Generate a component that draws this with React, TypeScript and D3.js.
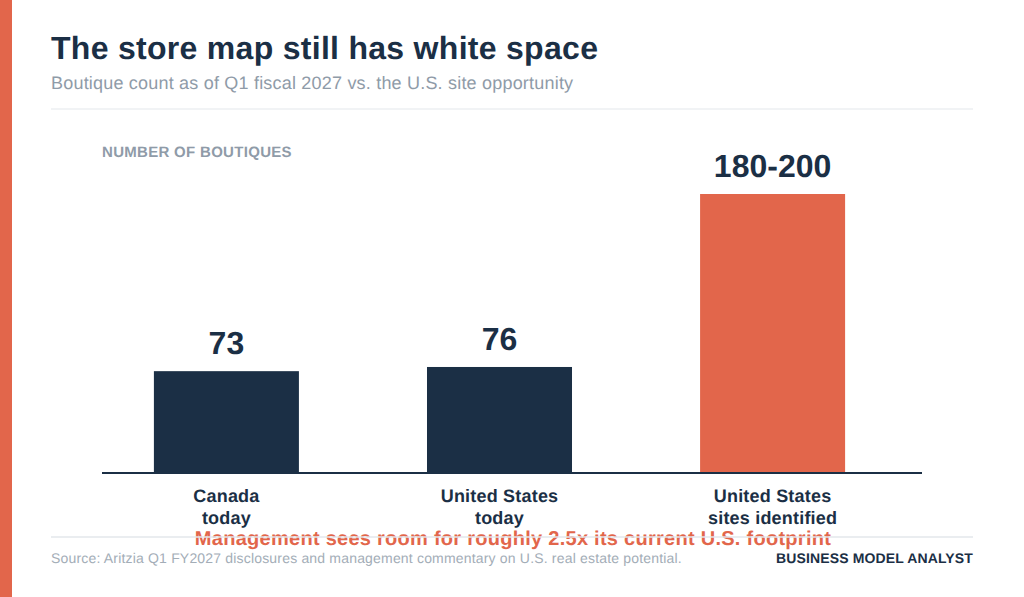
import React from "react";
import * as d3 from "d3";

// ── Data ──────────────────────────────────────────────────────────────────────

const CATEGORIES = ["canada", "us", "sites"];
const CATEGORY_LINES = [
  ["Canada", "today"],
  ["United States", "today"],
  ["United States", "sites identified"],
];
const VALUES = [73, 76, 200];
const VALUE_LABELS = ["73", "76", "180-200"];

// ── Colors ────────────────────────────────────────────────────────────────────

const NAVY = "#1b2f45";
const CORAL = "#e2664b";
const BAR_COLORS = [NAVY, NAVY, CORAL];
const FONT = "'Liberation Sans', Arial, sans-serif";

const WIDTH = 1024;
const HEIGHT = 597;

export default function App() {
  const x = d3.scaleBand<string>().domain(CATEGORIES).range([90, 909]).paddingInner(0.469).paddingOuter(0.234);
  const y = d3.scaleLinear().domain([0, 200]).range([473, 194]);

  return (
    <svg
      width={WIDTH}
      height={HEIGHT}
      textRendering="geometricPrecision"
      style={{ position: "absolute", left: 0, top: 0, display: "block", fontFamily: FONT }}
    >
      <rect x={0} y={0} width={WIDTH} height={HEIGHT} fill="#fff" />
      <rect x={0} y={0} width={12} height={HEIGHT} fill={CORAL} />

      <text x={51} y={59} fontSize={32} fontWeight={700} fill={NAVY} letterSpacing={0.29}>
        The store map still has white space
      </text>
      <text x={51} y={89} fontSize={18} fill="#8f9ba8" letterSpacing={0.2}>
        Boutique count as of Q1 fiscal 2027 vs. the U.S. site opportunity
      </text>
      <line x1={51} x2={973} y1={109} y2={109} stroke="#e3e7eb" strokeWidth={1} />

      <text x={102} y={157} fontSize={15} fontWeight={700} fill="#8f9ba8" letterSpacing={0.3}>
        NUMBER OF BOUTIQUES
      </text>

      {CATEGORIES.map((c, i) => {
        const cx = x(c)! + x.bandwidth() / 2;
        return (
          <g key={c}>
            <rect x={x(c)} y={y(VALUES[i])} width={x.bandwidth()} height={y(0) - y(VALUES[i])} fill={BAR_COLORS[i]} />
            <text
              x={cx}
              y={y(VALUES[i]) - 17}
              textAnchor="middle"
              fontSize={32}
              fontWeight={700}
              fill={NAVY}
            >
              {VALUE_LABELS[i]}
            </text>
            {CATEGORY_LINES[i].map((line, j) => (
              <text
                key={line}
                x={cx}
                y={502 + j * 22}
                textAnchor="middle"
                fontSize={18}
                fontWeight={700}
                fill={NAVY}
                letterSpacing={0.2}
              >
                {line}
              </text>
            ))}
          </g>
        );
      })}

      <line x1={102} x2={922} y1={y(0)} y2={y(0)} stroke={NAVY} strokeWidth={2} />

      <text x={513} y={545} textAnchor="middle" fontSize={20} fontWeight={700} fill={CORAL} letterSpacing={0.27}>
        Management sees room for roughly 2.5x its current U.S. footprint
      </text>
      <line x1={51} x2={973} y1={537} y2={537} stroke="#e3e7eb" strokeWidth={1.5} />

      <text x={51} y={563} fontSize={14} fill="#a3adb7" letterSpacing={0.18}>
        Source: Aritzia Q1 FY2027 disclosures and management commentary on U.S. real estate potential.
      </text>
      <text x={973} y={563} textAnchor="end" fontSize={14} fontWeight={700} fill={NAVY} letterSpacing={0.14}>
        BUSINESS MODEL ANALYST
      </text>
    </svg>
  );
}
